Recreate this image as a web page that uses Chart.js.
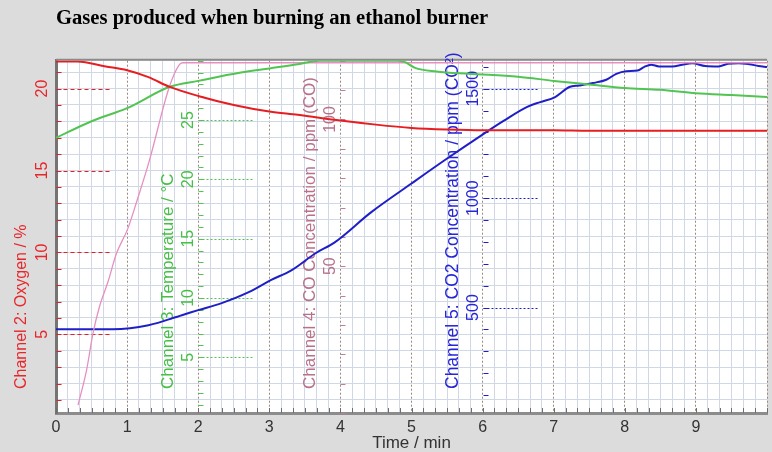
<!DOCTYPE html>
<html>
<head>
<meta charset="utf-8">
<script src="https://cdn.jsdelivr.net/npm/chart.js@4.4.1/dist/chart.umd.min.js"></script>
<style>
    html, body { margin: 0; padding: 0; background: #dcdcdc; }
</style>
</head>
<body>
<canvas id="gases__grafico" width="772" height="452"></canvas>
<script>
// datos (tiempo en minutos)
const chartTitle = 'Gases produced when burning an ethanol burner';
const timeTicks = [0, 1, 2, 3, 4, 5, 6, 7, 8, 9];

const o2Time = [0, 0.3, 0.7, 1.0, 1.3, 1.6, 2.0, 2.5, 3.0, 3.4, 4.0, 4.5, 5.0, 5.5, 6.0, 7.0, 7.5, 8.0, 9.0, 10.0];
const o2Values = [21.65, 21.65, 21.35, 21.12, 20.7, 20.1, 19.55, 19.0, 18.6, 18.4, 18.05, 17.8, 17.6, 17.5, 17.45, 17.45, 17.42, 17.42, 17.42, 17.42];
const o2Ticks = [5, 10, 15, 20];

const tempTime = [0, 0.5, 1.0, 1.6, 2.0, 2.6, 3.0, 3.4, 3.7, 4.8, 4.9, 5.05, 5.35, 5.8, 6.5, 7.0, 7.5, 8.0, 8.5, 9.0, 9.5, 10.0];
const tempValues = [23.5, 24.9, 26.0, 27.8, 28.3, 29.0, 29.35, 29.7, 30, 30, 29.9, 29.4, 29.1, 28.9, 28.65, 28.3, 28.0, 27.7, 27.55, 27.25, 27.1, 26.95];
const tempTicks = [5, 10, 15, 20, 25];

const coTime = [0.31, 0.43, 0.52, 0.61, 0.73, 0.85, 1.01, 1.14, 1.31, 1.59, 1.73, 1.78, 10];
const coValues = [2.7, 14.6, 27.1, 36.1, 44.6, 54.3, 62.8, 72.4, 85.7, 110.8, 118.5, 119.3, 119.3];
const coTicks = [50, 100];

const co2Time = [0, 0.8, 1.3, 1.77, 2.0, 2.33, 2.71, 3.02, 3.31, 3.65, 3.92, 4.43, 5.0, 5.46, 6.02, 6.3, 6.62, 6.81, 7.02, 7.22, 7.36, 7.55, 7.74, 7.88, 8.02, 8.18, 8.27, 8.37, 8.48, 8.67, 8.81, 8.95, 9.13, 9.32, 9.45, 9.6, 9.75, 9.88, 10];
const co2Values = [401, 401, 419, 465, 488, 520, 570, 625, 670, 748, 798, 935, 1067, 1172, 1295, 1354, 1416, 1439, 1462, 1508, 1515, 1526, 1541, 1568, 1580, 1583, 1599, 1610, 1602, 1602, 1610, 1616, 1604, 1602, 1614, 1617, 1612, 1604, 1599];
const co2Ticks = [500, 1000, 1500];

const rojo = '#e61e22', verde = '#52c452', rosa = '#e690c2', azul = '#1f1fc8';
const gridColor = '#d0d8e5', gridMajor = '#988a7b';

const puntos = (t, v) => t.map((x, i) => ({ x: x, y: v[i] }));
const entero = v => Math.abs(v - Math.round(v)) < 1e-6;

// ejes interiores: etiquetas, titulos y marcas
const ejes = [
    { id: 'y', at: 0, minor: 1, major: o2Ticks, color: rojo, text: '#e8262a', title: 'Channel 2: Oxygen / %', size: 16, line: 55, dash: [4, 3], labels: false },
    { id: 'yT', at: 2, minor: 1, major: tempTicks, color: verde, text: '#45bf45', title: 'Channel 3: Temperature / °C', size: 17, line: 55, dash: [2, 2], labels: true },
    { id: 'yCO', at: 4, minor: 10, major: coTicks, color: '#c27d98', text: '#b9718a', title: 'Channel 4: CO Concentration / ppm (CO)', size: 17, line: 0, dash: [2, 2], labels: true },
    { id: 'yCO2', at: 6, minor: 100, major: co2Ticks, color: azul, text: '#2626d6', title: 'Channel 5: CO2 Concentration / ppm (CO²)', size: 17.5, line: 55, dash: [2, 2], labels: true }
];

const decorado = {
    id: 'decorado',
    beforeDraw(chart) {
        const { ctx, chartArea: a } = chart;
        ctx.save();
        ctx.fillStyle = '#dcdcdc';
        ctx.fillRect(0, 0, chart.width, chart.height);
        ctx.fillStyle = '#ffffff';
        ctx.fillRect(a.left, a.top, a.right - a.left, a.bottom - a.top);
        ctx.restore();
    },
    beforeDatasetsDraw(chart) {
        const { ctx, chartArea: a, scales } = chart;
        const x = scales.x;
        ctx.save();
        // marco superior
        ctx.strokeStyle = '#8a8a8a';
        ctx.lineWidth = 2;
        ctx.beginPath();
        ctx.moveTo(a.left, a.top - 1);
        ctx.lineTo(a.right, a.top - 1);
        ctx.stroke();
        // marcas del eje de tiempo
        ctx.strokeStyle = '#6e6e6e';
        ctx.lineWidth = 1;
        x.ticks.forEach(t => {
            const px = Math.round(x.getPixelForValue(t.value)) + 0.5;
            ctx.beginPath();
            ctx.moveTo(px, a.bottom);
            ctx.lineTo(px, a.bottom - 5);
            ctx.stroke();
        });
        ejes.forEach(e => {
            const s = scales[e.id];
            const ax = Math.round(x.getPixelForValue(e.at)) + 0.5;
            ctx.strokeStyle = e.color;
            ctx.lineWidth = 1;
            ctx.setLineDash([]);
            for (let v = Math.ceil(s.min / e.minor) * e.minor; v <= s.max; v += e.minor) {
                const py = Math.round(s.getPixelForValue(v)) + 0.5;
                ctx.beginPath();
                ctx.moveTo(ax, py);
                ctx.lineTo(ax + 5, py);
                ctx.stroke();
            }
            if (e.line) {
                ctx.setLineDash(e.dash);
                e.major.forEach(v => {
                    const py = Math.round(s.getPixelForValue(v)) + 0.5;
                    ctx.beginPath();
                    ctx.moveTo(ax, py);
                    ctx.lineTo(ax + e.line, py);
                    ctx.stroke();
                });
                ctx.setLineDash([]);
            }
            ctx.fillStyle = e.text;
            ctx.textBaseline = 'middle';
            if (e.labels) {
                ctx.font = '16px "Liberation Sans"';
                ctx.textAlign = 'center';
                e.major.forEach(v => {
                    ctx.save();
                    ctx.translate(ax - 10, s.getPixelForValue(v));
                    ctx.rotate(-Math.PI / 2);
                    ctx.fillText(String(v), 0, 0);
                    ctx.restore();
                });
            }
            ctx.font = e.size + 'px "Liberation Sans"';
            ctx.textAlign = 'left';
            ctx.save();
            ctx.translate(e.labels ? ax - 30 : 22, a.bottom - 24);
            ctx.rotate(-Math.PI / 2);
            ctx.fillText(e.title, 0, 0);
            ctx.restore();
        });
        ctx.restore();
    }
};

Chart.defaults.font.family = '"Liberation Sans", Arial, sans-serif';

const grafico = document.getElementById('gases__grafico').getContext('2d');
const gasesChart = new Chart(grafico, {
    type: 'line',
    data: {
        datasets: [{
            label: 'Oxygen',
            yAxisID: 'y',
            data: puntos(o2Time, o2Values),
            borderColor: rojo,
            borderWidth: 2
        }, {
            label: 'Temperature',
            yAxisID: 'yT',
            data: puntos(tempTime, tempValues),
            borderColor: verde,
            borderWidth: 2
        }, {
            label: 'CO',
            yAxisID: 'yCO',
            data: puntos(coTime, coValues),
            borderColor: rosa,
            borderWidth: 1.3
        }, {
            label: 'CO2',
            yAxisID: 'yCO2',
            data: puntos(co2Time, co2Values),
            borderColor: azul,
            borderWidth: 2
        }]
    },
    options: {
        responsive: false,
        animation: false,
        layout: { padding: 0 },
        elements: {
            point: { radius: 0 },
            line: { cubicInterpolationMode: 'monotone', fill: false }
        },
        plugins: {
            legend: { display: false },
            tooltip: { enabled: false },
            title: {
                display: true,
                text: chartTitle,
                align: 'start',
                fullSize: false,
                color: '#000000',
                font: { family: '"Liberation Serif", serif', size: 20.6, weight: 'bold' },
                padding: { top: 6, bottom: 30 }
            }
        },
        scales: {
            x: {
                type: 'linear',
                position: 'bottom',
                min: 0,
                max: 10,
                afterFit: s => { s.height = 39; },
                ticks: {
                    stepSize: 1 / 6,
                    maxTicksLimit: 100,
                    autoSkip: false,
                    maxRotation: 0,
                    padding: 5,
                    color: '#333333',
                    font: { size: 16 },
                    callback: v => (entero(v) && timeTicks.includes(Math.round(v))) ? String(Math.round(v)) : ''
                },
                grid: {
                    drawTicks: false,
                    color: c => (c.tick && entero(c.tick.value)) ? gridMajor : gridColor
                },
                border: {
                    display: true,
                    color: '#8c8c8c',
                    width: 3,
                    dash: c => (c.tick && entero(c.tick.value)) ? [2, 2] : []
                },
                title: {
                    display: true,
                    text: 'Time / min',
                    color: '#333333',
                    font: { size: 17, lineHeight: 1 },
                    padding: 0
                }
            },
            y: {
                position: 'left',
                min: 0.2,
                max: 21.7,
                afterFit: s => { s.width = 56; },
                ticks: {
                    stepSize: 1,
                    includeBounds: false,
                    autoSkip: false,
                    minRotation: 90,
                    maxRotation: 90,
                    crossAlign: 'center',
                    padding: 5,
                    color: '#e8262a',
                    font: { size: 16 },
                    callback: v => o2Ticks.includes(v) ? String(v) : ''
                },
                grid: { drawTicks: false, color: gridColor },
                border: { display: true, color: '#747474', width: 3 }
            },
            yT: { type: 'linear', display: false, position: 'left', min: 0.3, max: 30 },
            yCO: { type: 'linear', display: false, position: 'left', min: 0, max: 120 },
            yCO2: { type: 'linear', display: false, position: 'left', min: 18, max: 1628 }
        }
    },
    plugins: [decorado]
});
</script>
</body>
</html>
